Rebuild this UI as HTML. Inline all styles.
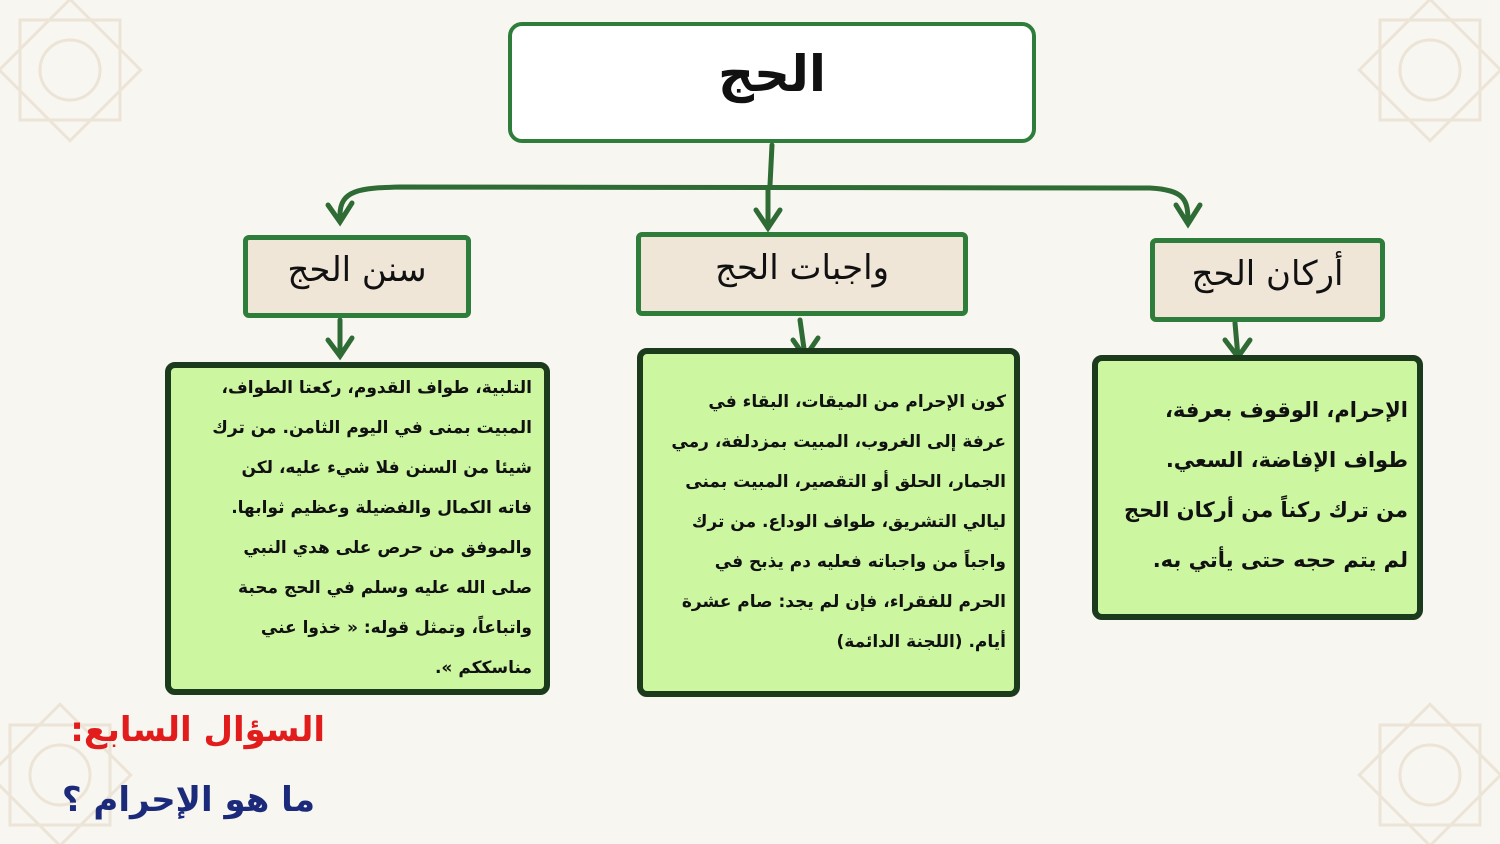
<!DOCTYPE html>
<html><head><meta charset="utf-8"><style>
html,body{margin:0;width:1500px;height:844px;overflow:hidden;}
body{background:#f8f6f1;position:relative;font-family:"DejaVu Sans",sans-serif;}
.b{position:absolute;box-sizing:border-box;}
.t{position:absolute;direction:rtl;text-align:right;font-weight:bold;color:#111;white-space:nowrap;}
</style></head><body>
<svg width="1500" height="844" style="position:absolute;left:0;top:0">
<g fill="none" stroke="#ece4d6" stroke-width="3">
<g transform="translate(70,70)"><rect x="-50" y="-50" width="100" height="100"/><rect x="-50" y="-50" width="100" height="100" transform="rotate(45)"/><circle r="30"/></g>
<g transform="translate(1430,70)"><rect x="-50" y="-50" width="100" height="100"/><rect x="-50" y="-50" width="100" height="100" transform="rotate(45)"/><circle r="30"/></g>
<g transform="translate(60,775)"><rect x="-50" y="-50" width="100" height="100"/><rect x="-50" y="-50" width="100" height="100" transform="rotate(45)"/><circle r="30"/></g>
<g transform="translate(1430,775)"><rect x="-50" y="-50" width="100" height="100"/><rect x="-50" y="-50" width="100" height="100" transform="rotate(45)"/><circle r="30"/></g>
</g>
<g fill="none" stroke="#2e6b35" stroke-width="5" stroke-linecap="round">
<path d="M772,145 L770,185"/>
<path d="M340,215 C340,190 360,188 400,187 L1150,188 C1185,190 1188,200 1188,222"/>
<path d="M768,188 L768,228"/>
<path d="M328,205 L340,222 L352,203"/><path d="M756,210 L768,228 L780,210"/><path d="M1176,205 L1188,224 L1200,205"/>
<path d="M340,320 L340,355"/><path d="M328,340 L340,356 L352,338"/>
<path d="M800,320 L805,356"/><path d="M793,340 L805,357 L818,338"/>
<path d="M1235,323 L1238,357"/><path d="M1225,340 L1238,357 L1250,340"/>
</g>
</svg>
<div class="b" style="left:508px;top:22px;width:528px;height:121px;background:#fff;border:4px solid #2e7d3a;border-radius:14px"></div>
<div class="t" style="left:508px;top:45px;width:528px;text-align:center;font-size:50px;">الحج</div>
<div class="b" style="left:243px;top:235px;width:228px;height:83px;background:#efe6d8;border:5px solid #2e7d3a;border-radius:6px"></div>
<div class="t" style="left:243px;top:250px;width:228px;text-align:center;font-size:34px;font-weight:normal">سنن الحج</div>
<div class="b" style="left:636px;top:232px;width:332px;height:84px;background:#efe6d8;border:5px solid #2e7d3a;border-radius:6px"></div>
<div class="t" style="left:636px;top:248px;width:332px;text-align:center;font-size:34px;font-weight:normal">واجبات الحج</div>
<div class="b" style="left:1150px;top:238px;width:235px;height:84px;background:#efe6d8;border:5px solid #2e7d3a;border-radius:6px"></div>
<div class="t" style="left:1150px;top:254px;width:235px;text-align:center;font-size:34px;font-weight:normal">أركان الحج</div>

<div class="b" style="left:165px;top:362px;width:385px;height:333px;background:#ccf7a0;border:6px solid #1c3a1c;border-radius:10px"></div>
<div class="t" style="left:180px;top:368px;width:352px;font-size:17px;line-height:40px">التلبية، طواف القدوم، ركعتا الطواف،<br>المبيت بمنى في اليوم الثامن. من ترك<br>شيئا من السنن فلا شيء عليه، لكن<br>فاته الكمال والفضيلة وعظيم ثوابها.<br>والموفق من حرص على هدي النبي<br>صلى الله عليه وسلم في الحج محبة<br>واتباعاً، وتمثل قوله: « خذوا عني<br>مناسككم ».</div>
<div class="b" style="left:637px;top:348px;width:383px;height:349px;background:#ccf7a0;border:6px solid #1c3a1c;border-radius:10px"></div>
<div class="t" style="left:652px;top:382px;width:354px;font-size:17px;line-height:40px">كون الإحرام من الميقات، البقاء في<br>عرفة إلى الغروب، المبيت بمزدلفة، رمي<br>الجمار، الحلق أو التقصير، المبيت بمنى<br>ليالي التشريق، طواف الوداع. من ترك<br>واجباً من واجباته فعليه دم يذبح في<br>الحرم للفقراء، فإن لم يجد: صام عشرة<br>أيام. (اللجنة الدائمة)</div>
<div class="b" style="left:1092px;top:355px;width:331px;height:265px;background:#ccf7a0;border:6px solid #1c3a1c;border-radius:10px"></div>
<div class="t" style="left:1105px;top:385px;width:303px;font-size:21px;line-height:50px">الإحرام، الوقوف بعرفة،<br>طواف الإفاضة، السعي.<br>من ترك ركناً من أركان الحج<br>لم يتم حجه حتى يأتي به.</div>

<div class="t" style="left:40px;top:710px;width:285px;font-size:34px;color:#e21b1b">السؤال السابع:</div>
<div class="t" style="left:40px;top:780px;width:275px;font-size:34px;color:#1b2a7a">ما هو الإحرام ؟</div>
</body></html>
